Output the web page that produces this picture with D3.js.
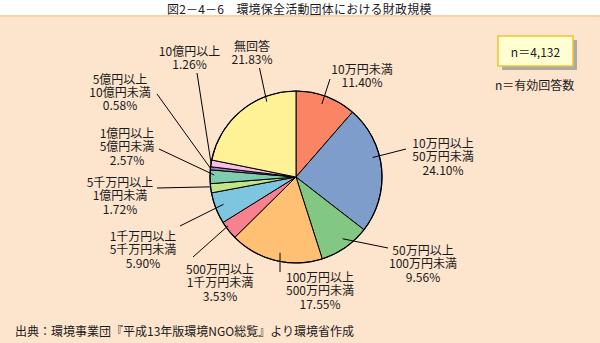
<!DOCTYPE html>
<html lang="ja">
<head>
<meta charset="utf-8">
<script src="https://cdn.jsdelivr.net/npm/d3@7"></script>
<style>
  html, body { margin: 0; padding: 0; background: #ffffff; }
  svg { display: block; }
  text { font-family: "Noto Sans CJK JP", "Noto Sans", sans-serif; fill: #1a1a1a; }
</style>
</head>
<body>
<svg id="chart" width="600" height="343"></svg>
<script>
// 環境保全活動団体の年間財政規模（n = 4,132）
const title = "図2－4－6　環境保全活動団体における財政規模";
const categories = [
  ["10万円未満"],
  ["10万円以上", "50万円未満"],
  ["50万円以上", "100万円未満"],
  ["100万円以上", "500万円未満"],
  ["500万円以上", "1千万円未満"],
  ["1千万円以上", "5千万円未満"],
  ["5千万円以上", "1億円未満"],
  ["1億円以上", "5億円未満"],
  ["5億円以上", "10億円未満"],
  ["10億円以上"],
  ["無回答"]
];
const shares = [11.40, 24.10, 9.56, 17.55, 3.53, 5.90, 1.72, 2.57, 0.58, 1.26, 21.83];
const sliceColors = ["#fa8463", "#7e9dcb", "#82c882", "#ffc074", "#f8818f", "#7ec6e0",
                     "#c4e488", "#80ccb0", "#a07cc0", "#f8bee4", "#fff296"];
const sampleLabel = "n＝4,132";
const sampleNote = "n＝有効回答数";
const sourceNote = "出典：環境事業団『平成13年版環境NGO総覧』より環境省作成";

// Label placement: t = position across the slice, r = fraction of radius where the
// leader line starts, end = outer end of the leader, pos = centre of the first text line
const labelLayout = [
  { t: 0.475, r: 0.90, end: [330, 79],  pos: [362, 67.5] },
  { t: 0.40,  r: 0.92, end: [406, 149], pos: [443, 142] },
  { t: 0.44,  r: 0.90, end: [388, 248], pos: [423, 249] },
  { t: 0.47,  r: 0.90, end: [280, 272], pos: [320, 276] },
  { t: 0.70,  r: 0.975, end: [193, 257], pos: [220, 268] },
  { t: 0.53,  r: 0.90, end: [180, 226], pos: [143, 235] },
  { t: 0.66,  r: 1.00, end: [157, 188], pos: [120, 181] },
  { t: 0.63,  r: 0.95, end: [159, 149], pos: [127, 132] },
  { t: 0.50,  r: 1.00, end: [157, 94],  pos: [120, 77.5] },
  { t: 0.50,  r: 1.00, end: [197, 73],  pos: [189.5, 50] },
  { t: 0.73,  r: 0.94, end: [259.5, 68], pos: [252, 44.5] }
];

const W = 600, H = 343;
const cx = 296, cy = 177, R = 86;
const lineGap = 13.4;

const svg = d3.select("#chart");

// page background: white title strip over a peach panel
svg.append("rect").attr("x", 0).attr("y", 0).attr("width", W).attr("height", H).attr("fill", "#ffffff");
svg.append("rect").attr("x", 0).attr("y", 16).attr("width", W).attr("height", H - 16).attr("fill", "#fde4cd");
svg.append("rect").attr("x", 0).attr("y", 15).attr("width", W).attr("height", 2).attr("fill", "#f9d2ab");

svg.append("text")
  .attr("x", 167).attr("y", 8)
  .attr("dominant-baseline", "central")
  .style("font-size", "12px")
  .style("letter-spacing", "0.2px")
  .text(title);

// pie
const pie = d3.pie().sort(null).value(d => d).startAngle(0).endAngle(2 * Math.PI);
const arcs = pie(shares);
const arc = d3.arc().innerRadius(0).outerRadius(R);

const g = svg.append("g").attr("transform", `translate(${cx},${cy})`);
g.selectAll("path.slice")
  .data(arcs)
  .join("path")
  .attr("class", "slice")
  .attr("d", arc)
  .attr("fill", (d, i) => sliceColors[i])
  .attr("stroke", "#000")
  .attr("stroke-width", 1)
  .attr("stroke-linejoin", "round");

g.append("circle").attr("r", R).attr("fill", "none").attr("stroke", "#000").attr("stroke-width", 1.2);

// leader lines
const pointOn = (d, lay) => {
  const a = d.startAngle + (d.endAngle - d.startAngle) * lay.t;
  const rr = R * lay.r;
  const c = d3.arc().innerRadius(rr).outerRadius(rr).centroid({ startAngle: a, endAngle: a });
  return [cx + c[0], cy + c[1]];
};

const line = d3.line();
svg.append("g")
  .selectAll("path")
  .data(arcs)
  .join("path")
  .attr("d", (d, i) => line([pointOn(d, labelLayout[i]), labelLayout[i].end]))
  .attr("fill", "none")
  .attr("stroke", "#000")
  .attr("stroke-width", 1);

// labels: category lines followed by the share, one text block per slice
const labels = svg.append("g").style("font-size", "12px");
arcs.forEach((d, i) => {
  const lay = labelLayout[i];
  const rows = categories[i].concat([shares[i].toFixed(2) + "%"]);
  const t = labels.append("text")
    .attr("x", lay.pos[0])
    .attr("y", lay.pos[1])
    .attr("text-anchor", "middle")
    .attr("dominant-baseline", "central");
  rows.forEach((txt, k) => {
    t.append("tspan")
      .attr("x", lay.pos[0])
      .attr("y", lay.pos[1] + k * lineGap)
      .text(txt);
  });
});

// sample-size box with drop shadow
const box = { x: 498, y: 36, w: 75, h: 30 };
svg.append("rect")
  .attr("x", box.x + 4).attr("y", box.y + 4).attr("width", box.w).attr("height", box.h)
  .attr("fill", "#aaaaaa");
svg.append("rect")
  .attr("x", box.x).attr("y", box.y).attr("width", box.w).attr("height", box.h)
  .attr("fill", "#ffffd2").attr("stroke", "#f2c232").attr("stroke-width", 1.5);
svg.append("text")
  .attr("x", box.x + box.w / 2).attr("y", box.y + box.h / 2)
  .attr("text-anchor", "middle").attr("dominant-baseline", "central")
  .style("font-size", "12px")
  .text(sampleLabel);
svg.append("text")
  .attr("x", 495).attr("y", 84)
  .attr("dominant-baseline", "central")
  .style("font-size", "12px")
  .text(sampleNote);

// source
svg.append("text")
  .attr("x", 15).attr("y", 330)
  .attr("dominant-baseline", "central")
  .style("font-size", "12px")
  .text(sourceNote);
</script>
</body>
</html>
